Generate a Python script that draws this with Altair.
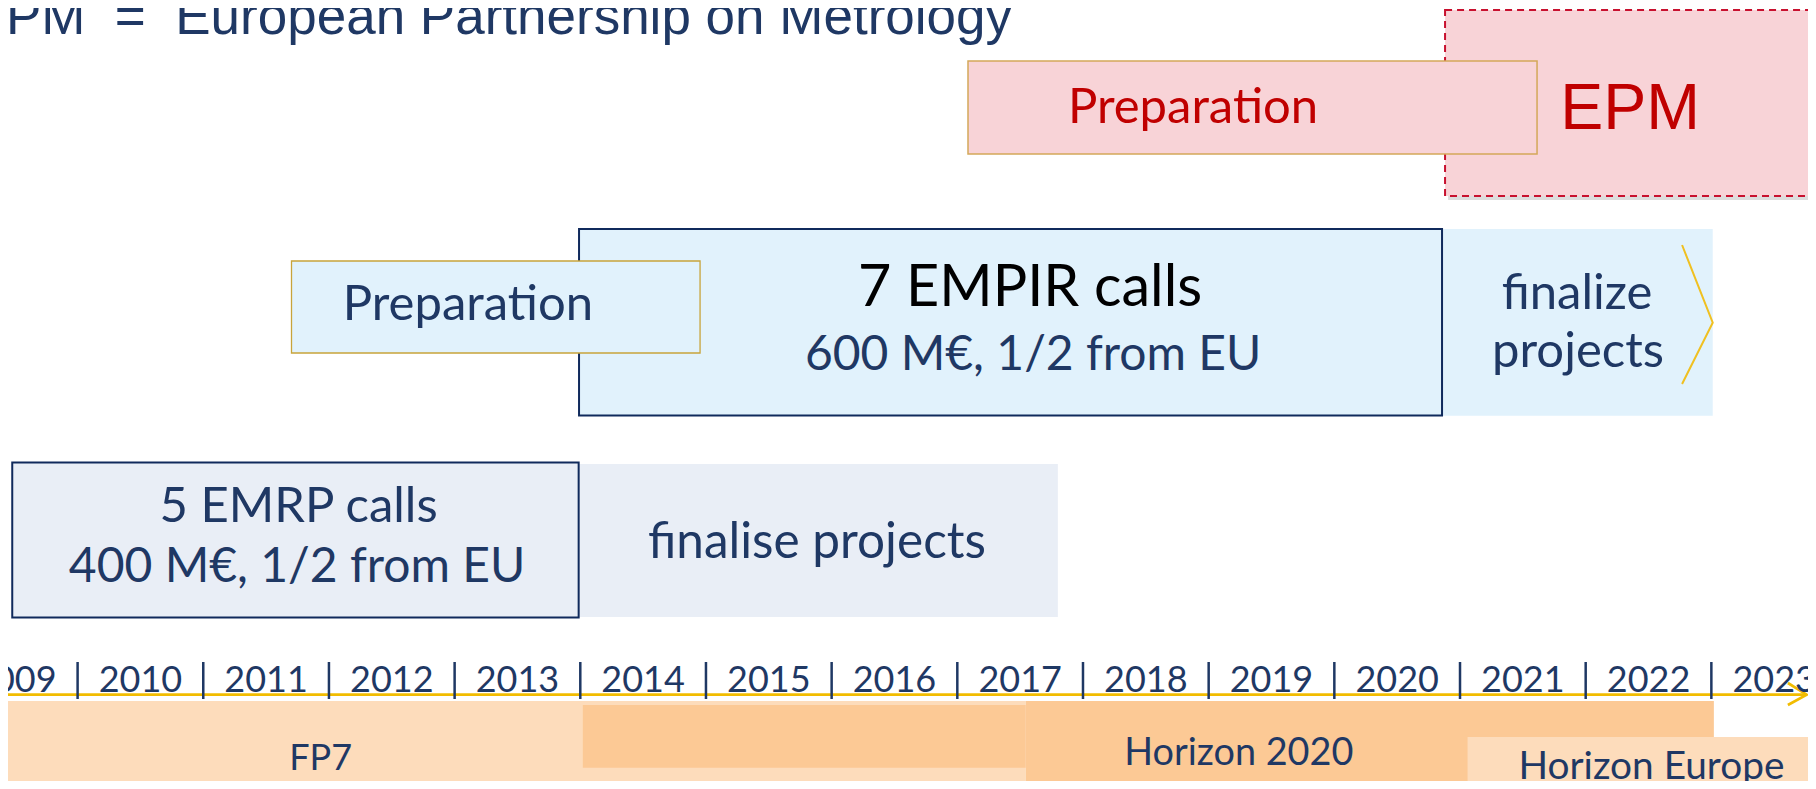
import altair as alt
import pandas as pd

# ---------------- data ----------------
NAVY = "#1F3864"
BORDER_NAVY = "#102A5C"
RED = "#C00000"
GOLD = "#F2BC00"

# x axis: years (separator at integer year), y: vertical layout units (top-down)
X_DOMAIN = [2009.4462, 2023.769]
Y_DOMAIN = [8, 781]

years = list(range(2009, 2024))
separators = list(range(2010, 2024))

# rectangles: name, start, end, top, bottom
rect_names = ["FP7", "H2020a", "H2020b", "HorizonEurope",
              "EMRP_final", "EMRP", "EMPIR_final", "EMPIR", "EMPIR_prep",
              "EPM_shadow", "EPM", "EPM_prep"]
rect_start = [2009.0, 2014.02, 2017.544, 2021.06,
              2013.987, 2009.48, 2020.857, 2013.99, 2011.702,
              2020.905, 2020.881, 2017.085]
rect_end = [2017.544, 2017.544, 2023.02, 2024.2,
            2017.80, 2013.987, 2023.011, 2020.857, 2014.953,
            2023.841, 2023.817, 2021.613]
rect_top = [701, 705, 701, 737,
            464, 462.5, 229, 229, 261,
            13, 10, 61]
rect_bottom = [790, 767.7, 790, 790,
               617, 617.5, 415.7, 415.5, 353,
               200, 196, 154]
rect_fill = ["#FDDCBB", "#FCC995", "#FCC995", "#FDDCBB",
             "#E9EEF6", "#E9EEF6", "#E1F2FC", "#E1F2FC", "#E1F2FC",
             "#9A9A9A", "#F8D3D7", "#F8D3D7"]
rect_opacity = [1, 1, 1, 1, 1, 1, 1, 1, 1, 0.35, 1, 1]

# text labels
txt_labels = ["Preparation", "Preparation", "7 EMPIR calls", "600 M€, 1/2 from EU",
              "finalize", "projects", "5 EMRP calls", "400 M€, 1/2 from EU",
              "finalise projects", "FP7", "Horizon 2020", "Horizon Europe"]
txt_x = [2018.876, 2013.106, 2017.579, 2017.603,
         2021.931, 2021.939, 2011.758, 2011.746,
         2015.883, 2011.934, 2019.240, 2022.523]
txt_y = [123.3, 320, 306, 370,
         309, 367, 521.7, 581.7,
         558, 770, 765, 779]
txt_size = [49, 49, 57.5, 48,
            49, 49, 49, 48,
            49.5, 36, 37.8, 38.8]
txt_color = [RED, NAVY, "#000000", NAVY,
             NAVY, NAVY, NAVY, NAVY,
             NAVY, NAVY, NAVY, NAVY]

title_text = "EPM\u00a0\u00a0=\u00a0\u00a0European Partnership on Metrology"
title_x, title_y = 2017.435, 34
epm_label, epm_x, epm_y = "EPM", 2022.353, 128.5

# axis arrow line and arrowhead, chevron of "finalize projects"
axis_x = [2009.0, 2023.759]
axis_y = [694.7, 694.7]
arrow_x = [2023.609, 2023.759, 2023.609]
arrow_y = [683, 694.7, 705]
chev_x = [2022.767, 2023.011, 2022.767]
chev_y = [245, 322.7, 384]
sep_top, sep_bottom = 662, 699

# ---------------- chart ----------------
xs = alt.Scale(domain=X_DOMAIN, nice=False, zero=False)
ys = alt.Scale(domain=Y_DOMAIN, nice=False, zero=False, reverse=True)

rects = pd.DataFrame({"name": rect_names, "x": rect_start, "x2": rect_end,
                      "y": rect_top, "y2": rect_bottom, "fill": rect_fill,
                      "op": rect_opacity})


def rect_layer(names, **mark_kw):
    d = rects[rects["name"].isin(names)]
    return alt.Chart(d).mark_rect(**mark_kw).encode(
        x=alt.X("x:Q", scale=xs, axis=None),
        x2="x2:Q",
        y=alt.Y("y:Q", scale=ys, axis=None),
        y2="y2:Q",
        fill=alt.Fill("fill:N", scale=None),
        opacity=alt.Opacity("op:Q", scale=None),
    )


programmes = rect_layer(["FP7", "H2020a", "H2020b", "HorizonEurope"])
plain = rect_layer(["EMRP_final", "EMPIR_final"])
navy_boxes = rect_layer(["EMRP", "EMPIR"], stroke=BORDER_NAVY, strokeWidth=2)
shadow = rect_layer(["EPM_shadow"])
epm_box = rect_layer(["EPM"], stroke="#C8102E", strokeWidth=2, strokeDash=[7, 5])
prep_blue = rect_layer(["EMPIR_prep"], stroke="#C8A43A", strokeWidth=1.3)
prep_red = rect_layer(["EPM_prep"], stroke="#D4A85A", strokeWidth=1.5)

texts = pd.DataFrame({"t": txt_labels, "x": txt_x, "y": txt_y,
                      "s": txt_size, "c": txt_color})
year_df = pd.DataFrame({"t": [str(y) for y in years],
                        "x": [y + 0.5 for y in years],
                        "y": [691.7] * len(years),
                        "s": [36] * len(years), "c": [NAVY] * len(years)})
all_text = pd.concat([texts, year_df], ignore_index=True)

lato_text = alt.Chart(all_text).mark_text(
    font="Lato", align="center", baseline="alphabetic").encode(
    x=alt.X("x:Q", scale=xs, axis=None),
    y=alt.Y("y:Q", scale=ys, axis=None),
    text="t:N",
    size=alt.Size("s:Q", scale=None),
    color=alt.Color("c:N", scale=None),
)

title = alt.Chart(pd.DataFrame({"t": [title_text], "x": [title_x], "y": [title_y]})).mark_text(
    font="Liberation Sans", fontSize=53, color=NAVY, align="right", baseline="alphabetic").encode(
    x=alt.X("x:Q", scale=xs, axis=None), y=alt.Y("y:Q", scale=ys, axis=None), text="t:N")

epm = alt.Chart(pd.DataFrame({"t": [epm_label], "x": [epm_x], "y": [epm_y]})).mark_text(
    font="Liberation Sans", fontSize=64.5, color=RED, align="center", baseline="alphabetic").encode(
    x=alt.X("x:Q", scale=xs, axis=None), y=alt.Y("y:Q", scale=ys, axis=None), text="t:N")

axis_line = alt.Chart(pd.DataFrame({"x": axis_x, "y": axis_y})).mark_line(
    color=GOLD, strokeWidth=2.7).encode(
    x=alt.X("x:Q", scale=xs, axis=None), y=alt.Y("y:Q", scale=ys, axis=None))

arrow = alt.Chart(pd.DataFrame({"x": arrow_x, "y": arrow_y, "o": [0, 1, 2]})).mark_line(
    color=GOLD, strokeWidth=2.7).encode(
    x=alt.X("x:Q", scale=xs, axis=None), y=alt.Y("y:Q", scale=ys, axis=None), order="o:Q")

chevron = alt.Chart(pd.DataFrame({"x": chev_x, "y": chev_y, "o": [0, 1, 2]})).mark_line(
    color="#F0C020", strokeWidth=2).encode(
    x=alt.X("x:Q", scale=xs, axis=None), y=alt.Y("y:Q", scale=ys, axis=None), order="o:Q")

seps = alt.Chart(pd.DataFrame({"x": separators,
                               "y": [sep_top] * len(separators),
                               "y2": [sep_bottom] * len(separators)})).mark_rule(
    color=NAVY, strokeWidth=2.5).encode(
    x=alt.X("x:Q", scale=xs, axis=None), y=alt.Y("y:Q", scale=ys, axis=None), y2="y2:Q")

chart = alt.layer(
    programmes, plain, navy_boxes, prep_blue, shadow, epm_box, prep_red,
    chevron, axis_line, arrow, seps, lato_text, title, epm,
).properties(
    width=1800, height=773, autosize=alt.AutoSizeParams(type="none"), padding=0,
).configure_view(stroke=None)

chart.save("out.html", embed_options={"renderer": "svg", "actions": False})
